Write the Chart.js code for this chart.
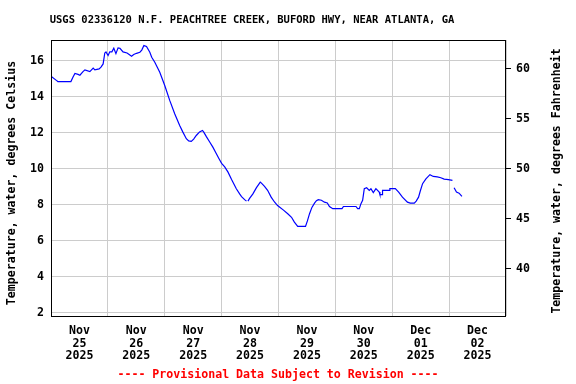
<!DOCTYPE html>
<html lang="en">
<head>
<meta charset="UTF-8">
<title>USGS 02336120 N.F. Peachtree Creek - water temperature</title>
<script src="https://cdn.jsdelivr.net/npm/chart.js"></script>
<style>
  body { margin: 0; background: #fff; }
  #wrap { width: 576px; height: 384px; }
</style>
</head>
<body>
<div id="wrap"><canvas id="chart" width="576" height="384"></canvas></div>
<script>
// hours since Nov 25 2025 00:00, null = gap in record
const hours = [0, 2.4, 2.9, 8.4, 9.3, 10.1, 11.4, 12.2, 13.5, 14.3, 16.4, 17.8, 18.5, 20.3, 21.1, 22.0,
  22.7, 23.2, 24.1, 24.8, 25.7, 26.5, 27.4, 28.3, 29.1, 30.4, 32.1, 34.0, 34.9, 36.1, 37.5, 38.3,
  39.2, 40.3, 41.7, 42.5, 43.8, 45.9, 48.0, 50.1, 52.2, 54.3, 55.6, 57.1, 58.1, 59.2, 60.2, 61.3,
  62.7, 63.9, 64.4, 65.5, 66.9, 68.3, 69.5, 70.9, 72.0, 73.3, 74.7, 76.2, 78.2, 79.6, 80.4, 81.7,
  82.5, 82.8, 83.1, 83.8, 85.2, 86.7, 88.3, 88.8, 90.1, 91.4, 92.9, 94.3, 95.6, 96.4, 98.1, 99.9,
  101.5, 102.7, 104.1, 107.4, 108.2, 109.1, 110.1, 111.2, 112.0, 112.8, 114.1, 115.4, 116.6, 117.5,
  118.9, 122.8, 123.4, 128.7, 129.4, 130.1, 130.8, 131.5, 132.2, 133.2, 134.3, 135.0, 136.0, 137.1,
  138.5, 138.8, 139.7, 139.9, 142.7, 143.0, 145.3, 146.7, 148.3, 150.4, 151.6, 153.3, 154.1, 155.1,
  155.8, 156.8, 158.2, 159.9, 161.3, 163.0, 164.5, 165.9, 167.7, 169.4, 169.8, 170.1, 171.1, 172.2, 173.4];
const tempC = [15.15, 14.9, 14.85, 14.85, 15.1, 15.3, 15.25, 15.2, 15.4, 15.5, 15.4, 15.6, 15.5, 15.55, 15.65, 15.83,
  16.44, 16.5, 16.3, 16.5, 16.5, 16.7, 16.4, 16.72, 16.7, 16.5, 16.44, 16.26, 16.35, 16.42, 16.48, 16.6,
  16.85, 16.8, 16.48, 16.2, 15.92, 15.37, 14.63, 13.8, 13.06, 12.4, 12.05, 11.67, 11.55, 11.52, 11.65, 11.85,
  12.05, 12.13, 12.05, 11.8, 11.5, 11.2, 10.9, 10.56, 10.3, 10.1, 9.81, 9.4, 8.89, 8.6, 8.45, 8.28,
  8.2, null, 8.2, 8.35, 8.6, 8.95, 9.26, 9.2, 9.02, 8.8, 8.42, 8.15, 7.95, 7.87, 7.7, 7.5,
  7.3, 7.03, 6.79, 6.79, 7.1, 7.5, 7.85, 8.09, 8.22, 8.28, 8.25, 8.14, 8.1, 7.9,
  7.78, 7.78, 7.9, 7.9, 7.78, 7.78, 8.06, 8.24, 8.89, 8.94, 8.8, 8.89, 8.67, 8.89,
  8.7, 8.56, 8.56, 8.8, 8.8, 8.89, 8.89, 8.7, 8.42, 8.14, 8.09, 8.09, 8.2, 8.42,
  8.75, 9.17, 9.44, 9.67, 9.57, 9.55, 9.5, 9.42, 9.39, 9.35, null, 8.94, 8.7, 8.64, 8.46];

const dayLabels = [['Nov', '25', '2025'], ['Nov', '26', '2025'], ['Nov', '27', '2025'], ['Nov', '28', '2025'],
  ['Nov', '29', '2025'], ['Nov', '30', '2025'], ['Dec', '01', '2025'], ['Dec', '02', '2025']];
const celsiusTicks = [2, 4, 6, 8, 10, 12, 14, 16];
const fahrenheitTicks = [40, 45, 50, 55, 60];

const cMin = 1.81, cMax = 17.16;
const toF = c => c * 9 / 5 + 32;
const mono = { family: 'DejaVu Sans Mono', size: 11.6, weight: 'bold' };

const extras = {
  id: 'extras',
  afterDraw(chart) {
    const { ctx, chartArea: a } = chart;
    ctx.save();
    ctx.strokeStyle = '#000';
    ctx.lineWidth = 1;
    ctx.strokeRect(a.left + 0.5, a.top + 0.5, a.right - a.left - 1, a.bottom - a.top);
    ctx.textAlign = 'center';
    ctx.textBaseline = 'middle';
    ctx.fillStyle = '#000';
    ctx.font = 'bold 10.5px "DejaVu Sans Mono"';
    ctx.fillText('USGS 02336120 N.F. PEACHTREE CREEK, BUFORD HWY, NEAR ATLANTA, GA', 252, 20);
    ctx.font = 'bold 11.6px "DejaVu Sans Mono"';
    ctx.fillStyle = '#f00';
    ctx.fillText('---- Provisional Data Subject to Revision ----', 278, 375);
    ctx.fillStyle = '#000';
    ctx.translate(12, 183);
    ctx.rotate(-Math.PI / 2);
    ctx.fillText('Temperature, water, degrees Celsius', 0, 0);
    ctx.rotate(Math.PI / 2);
    ctx.translate(557 - 12, -2);
    ctx.rotate(-Math.PI / 2);
    ctx.fillText('Temperature, water, degrees Fahrenheit', 0, 0);
    ctx.restore();
  }
};

new Chart(document.getElementById('chart'), {
  type: 'line',
  data: {
    datasets: [{
      data: hours.map((h, i) => ({ x: h, y: tempC[i] })),
      borderColor: '#0000ff',
      borderWidth: 1.2,
      pointRadius: 0,
      tension: 0,
      spanGaps: false,
      xAxisID: 'x',
      yAxisID: 'y'
    }]
  },
  options: {
    responsive: false,
    animation: false,
    layout: { padding: { top: 40, left: 0, right: 0, bottom: 0 } },
    plugins: { legend: { display: false }, tooltip: { enabled: false } },
    scales: {
      x: {
        type: 'linear', position: 'bottom', min: 0, max: 192,
        afterBuildTicks: s => { s.ticks = [0, 24, 48, 72, 96, 120, 144, 168, 192].map(v => ({ value: v })); },
        afterFit: s => { s.height = 0; },
        grid: { color: '#cccccc', lineWidth: 1, tickLength: 0 },
        border: { display: false },
        ticks: { display: false }
      },
      xDays: {
        type: 'linear', position: 'bottom', min: 0, max: 192, display: true,
        afterBuildTicks: s => { s.ticks = dayLabels.map((d, i) => ({ value: 12 + 24 * i })); },
        afterFit: s => { s.height = 68; },
        grid: { display: false },
        border: { display: false },
        ticks: {
          color: '#000', font: { ...mono, lineHeight: 1.12 }, padding: 0, maxRotation: 0, autoSkip: false,
          callback: v => dayLabels[Math.round((v - 12) / 24)]
        }
      },
      y: {
        type: 'linear', position: 'left', min: cMin, max: cMax,
        afterBuildTicks: s => { s.ticks = celsiusTicks.map(v => ({ value: v })); },
        afterFit: s => { s.width = 51; },
        grid: { color: '#cccccc', lineWidth: 1, tickLength: 0 },
        border: { display: false },
        ticks: { color: '#000', font: mono, padding: 7 }
      },
      y1: {
        type: 'linear', position: 'right', min: toF(cMin), max: toF(cMax), display: true,
        afterBuildTicks: s => { s.ticks = fahrenheitTicks.map(v => ({ value: v })); },
        afterFit: s => { s.width = 70; },
        grid: { drawOnChartArea: false, color: '#000', tickLength: 5 },
        border: { display: false },
        ticks: { color: '#000', font: mono, padding: 5 }
      }
    }
  },
  plugins: [extras]
});
</script>
</body>
</html>
